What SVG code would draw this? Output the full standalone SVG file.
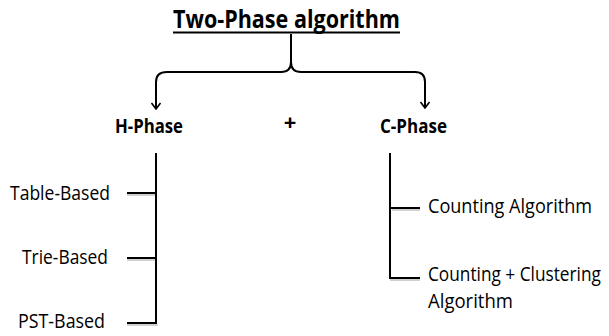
<svg xmlns="http://www.w3.org/2000/svg" width="609" height="336" viewBox="0 0 609 336">
  <style>
    .t { font-family: "Open Sans", "Liberation Sans", sans-serif; fill: #000; }
    .b { font-weight: bold; }
    .ln { fill: none; stroke: #000; stroke-width: 2; }
    .sh { fill: none; stroke: #999; stroke-width: 1.5; opacity: 0.6; }
  </style>
  <defs>
    <marker id="arr" viewBox="0 0 12 12" refX="11" refY="6" markerWidth="12" markerHeight="12" markerUnits="userSpaceOnUse" orient="auto">
      <path d="M5,1.5 L11,6 L5,10.5" fill="none" stroke="#000" stroke-width="1.6"/>
    </marker>
  </defs>

  <rect width="609" height="336" fill="#fff"/>

  <g id="title">
    <text class="t b" x="173" y="28" font-size="25" textLength="227" lengthAdjust="spacingAndGlyphs">Two-Phase algorithm</text>
    <line class="ln" x1="173" y1="32.5" x2="400" y2="32.5"/>
  </g>

  <g id="h-phase">
    <text class="t b" x="115" y="133" font-size="20" textLength="68" lengthAdjust="spacingAndGlyphs">H-Phase</text>
  </g>

  <g id="plus">
    <text class="t b" x="290" y="130" font-size="22" text-anchor="middle">+</text>
  </g>

  <g id="c-phase">
    <text class="t b" x="380" y="133" font-size="20" textLength="67" lengthAdjust="spacingAndGlyphs">C-Phase</text>
  </g>

  <g id="table-based">
    <text class="t" x="10" y="200" font-size="19.5" textLength="100" lengthAdjust="spacingAndGlyphs">Table-Based</text>
  </g>
  <g id="trie-based">
    <text class="t" x="22" y="264" font-size="19.5" textLength="86" lengthAdjust="spacingAndGlyphs">Trie-Based</text>
  </g>
  <g id="pst-based">
    <text class="t" x="18" y="328" font-size="19.5" textLength="87" lengthAdjust="spacingAndGlyphs">PST-Based</text>
  </g>

  <g id="counting">
    <text class="t" x="428" y="213" font-size="19.5" textLength="164" lengthAdjust="spacingAndGlyphs">Counting Algorithm</text>
  </g>
  <g id="counting-clustering">
    <text class="t" transform="translate(428,281) scale(0.885,1)" x="0" y="0" font-size="19.5">Counting + Clustering</text>
    <text class="t" x="428" y="308" font-size="19.5" textLength="85" lengthAdjust="spacingAndGlyphs">Algorithm</text>
  </g>

  <g id="connectors">
    <!-- brace from the title splitting into the two phases -->
    <path class="ln" d="M291,34 L291,62 Q291,72 281,72 L167,72 Q156,72 156,82 L156,109" marker-end="url(#arr)"/>
    <path class="ln" d="M291,34 L291,62 Q291,72 301,72 L415,72 Q425,72 425,82 L425,108" marker-end="url(#arr)"/>

    <!-- H-Phase branches -->
    <path class="sh" d="M127,195 L156,195 M127,260 L156,260 M127,325 L158,325"/>
    <path class="ln" d="M156,153 L156,323 M127,193 L156,193 M127,258 L156,258 M127,323 L157,323"/>

    <!-- C-Phase branches -->
    <path class="sh" d="M392,210 L420,210 M390,280 L420,280"/>
    <path class="ln" d="M390,153 L390,278 M390,208 L420,208 M389,278 L420,278"/>
  </g>
</svg>
